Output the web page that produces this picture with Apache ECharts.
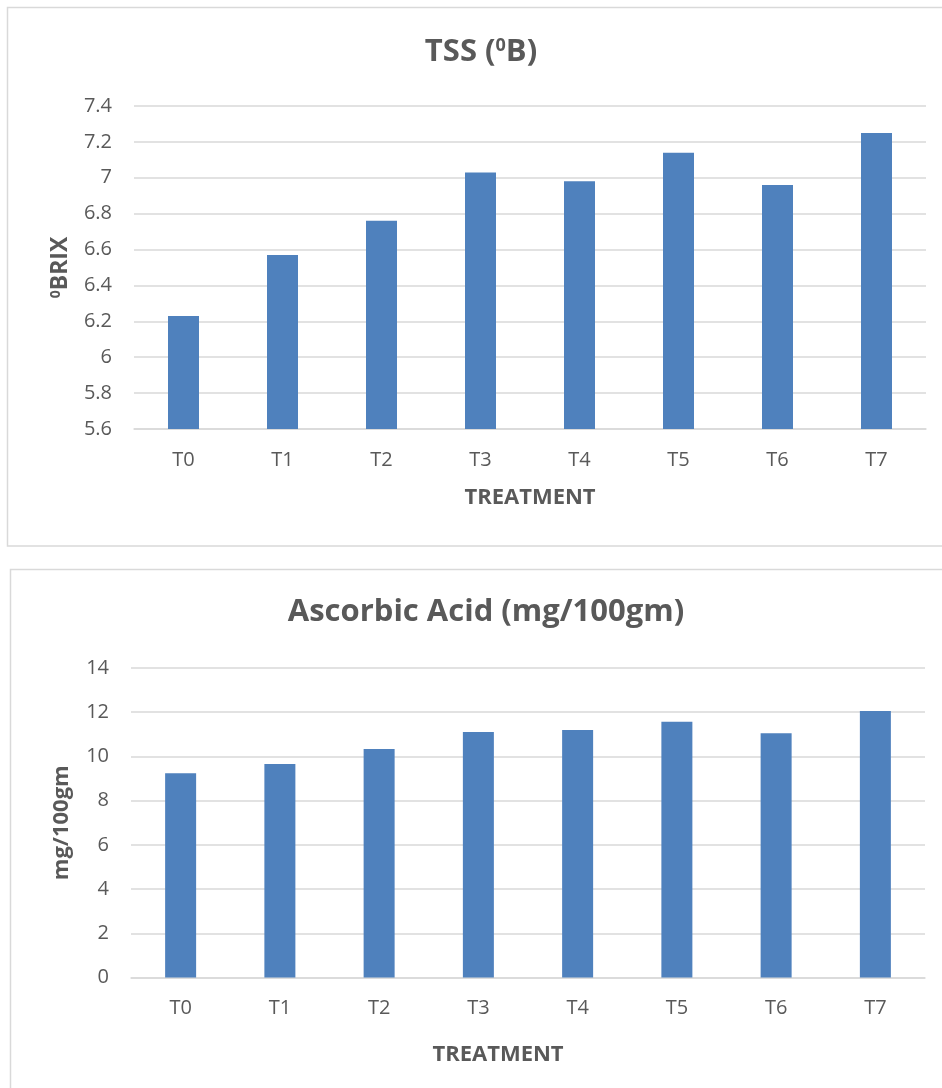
<!DOCTYPE html>
<html>
<head>
<meta charset="utf-8">
<script src="https://cdn.jsdelivr.net/npm/echarts@6/dist/echarts.min.js"></script>
<style>
  html, body { margin: 0; padding: 0; background: #ffffff; }
  #chart { width: 942px; height: 1088px; }
</style>
</head>
<body>
<div id="chart"></div>
<script>
// ---- data ----
const categories = ['T0', 'T1', 'T2', 'T3', 'T4', 'T5', 'T6', 'T7'];
const tssValues = [6.23, 6.57, 6.76, 7.03, 6.98, 7.14, 6.96, 7.25];
const ascorbicValues = [9.24, 9.66, 10.34, 11.10, 11.19, 11.57, 11.05, 12.06];
const tssTicks = { min: 5.6, max: 7.4, interval: 0.2 };
const ascorbicTicks = { min: 0, max: 14, interval: 2 };

const FONT = 'Open Sans';
const TXT = '#595959';
const GRID = '#d9d9d9';
const BAR = '#4f81bd';

const chart = echarts.init(document.getElementById('chart'), null, { renderer: 'canvas' });

function yAxisCfg(gridIndex, ticks, name, nameGap, nameSize) {
  return {
    type: 'value', gridIndex: gridIndex,
    min: ticks.min, max: ticks.max, interval: ticks.interval,
    name: name, nameLocation: 'middle', nameRotate: 90, nameGap: nameGap,
    nameTextStyle: {
      color: TXT, fontFamily: FONT, fontSize: nameSize, fontWeight: 'bold',
      rich: { sup: { fontSize: 14, fontWeight: 'bold', color: TXT, fontFamily: FONT, verticalAlign: 'top' } }
    },
    axisLine: { show: false }, axisTick: { show: false },
    axisLabel: { color: TXT, fontFamily: FONT, fontSize: 20, margin: 22 },
    splitLine: { lineStyle: { color: GRID, width: 1.5 } }
  };
}
function xAxisCfg(gridIndex) {
  return {
    type: 'category', gridIndex: gridIndex, data: categories,
    axisLine: { lineStyle: { color: GRID, width: 1.5 } },
    axisTick: { show: false },
    axisLabel: { color: TXT, fontFamily: FONT, fontSize: 20, margin: 21 }
  };
}
function titleCfg(text, x, y, size, rich) {
  return {
    text: text, left: x, top: y, textAlign: 'center', textVerticalAlign: 'middle', padding: 0,
    textStyle: { color: TXT, fontFamily: FONT, fontSize: size, fontWeight: 'bold', rich: rich || {} }
  };
}
const supRich = { sup: { fontSize: 18, fontWeight: 'bold', color: TXT, fontFamily: FONT, verticalAlign: 'top' } };

chart.setOption({
  animation: false,
  backgroundColor: '#ffffff',
  title: [
    titleCfg('TSS ({sup|0}B)', 481, 52, 31, supRich),
    titleCfg('TREATMENT', 530, 498, 22),
    titleCfg('Ascorbic Acid (mg/100gm)', 486, 612, 31),
    titleCfg('TREATMENT', 498, 1055, 22)
  ],
  graphic: [
    { type: 'rect', shape: { x: 7.5, y: 7.5, width: 960, height: 538.5 }, style: { fill: 'none', stroke: GRID, lineWidth: 1.5 }, silent: true },
    { type: 'rect', shape: { x: 10.5, y: 569.5, width: 960, height: 600 }, style: { fill: 'none', stroke: GRID, lineWidth: 1.5 }, silent: true }
  ],
  grid: [
    { left: 134, top: 106, width: 792, height: 323, containLabel: false },
    { left: 131, top: 668, width: 794, height: 309.5, containLabel: false }
  ],
  xAxis: [xAxisCfg(0), xAxisCfg(1)],
  yAxis: [
    yAxisCfg(0, tssTicks, '{sup|0}BRIX', 62, 23),
    yAxisCfg(1, ascorbicTicks, 'mg/100gm', 58, 22)
  ],
  series: [
    { type: 'bar', xAxisIndex: 0, yAxisIndex: 0, data: tssValues, barWidth: 31, itemStyle: { color: BAR } },
    { type: 'bar', xAxisIndex: 1, yAxisIndex: 1, data: ascorbicValues, barWidth: 31, itemStyle: { color: BAR } }
  ]
});
</script>
</body>
</html>
